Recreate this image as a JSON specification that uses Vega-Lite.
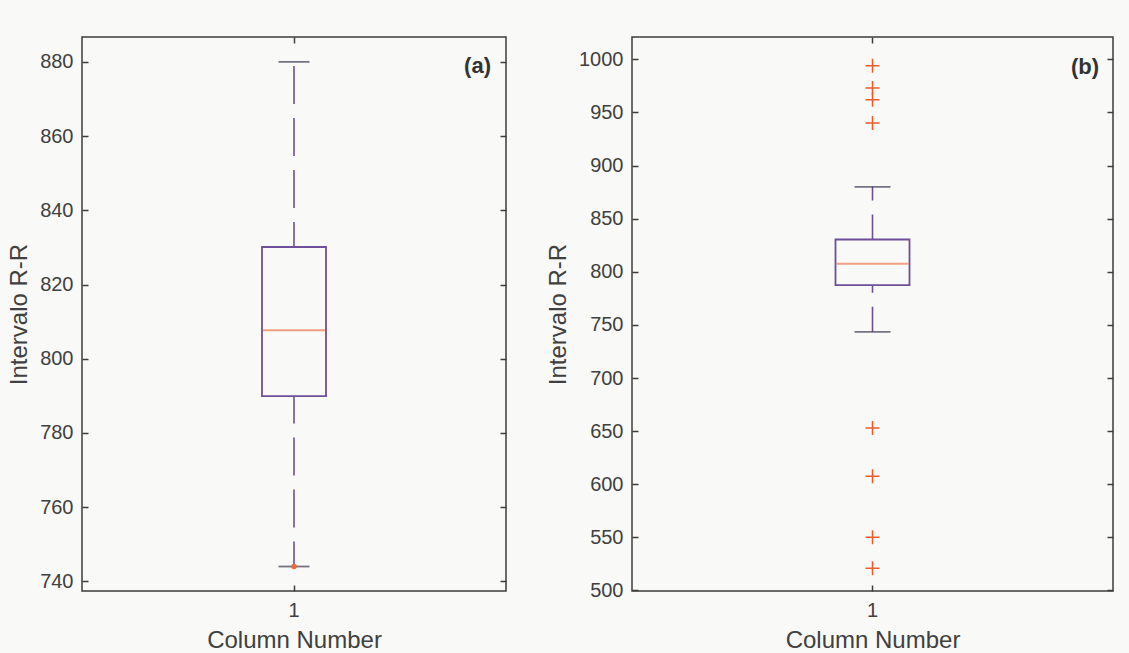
{
  "$schema": "https://vega.github.io/schema/vega-lite/v6.json",
  "background": "#f9f9f7",
  "padding": {"left": 6, "top": 35, "right": 16, "bottom": 6},
  "spacing": 37,
  "datasets": {
    "box_a": [{"col": "1", "lo": 744, "q1": 789.9, "med": 807.7, "q3": 830.1, "hi": 880}],
    "box_b": [{"col": "1", "lo": 743.5, "q1": 787.5, "med": 807.5, "q3": 830.4, "hi": 880}],
    "out_a": [{"col": "1", "value": 744}],
    "out_b": [
      {"col": "1", "value": 994},
      {"col": "1", "value": 973},
      {"col": "1", "value": 962},
      {"col": "1", "value": 940},
      {"col": "1", "value": 653},
      {"col": "1", "value": 607.5},
      {"col": "1", "value": 550},
      {"col": "1", "value": 521}
    ]
  },
  "hconcat": [
    {
      "width": 424,
      "height": 554,
      "title": {"text": "(a)", "anchor": "end", "orient": "top", "frame": "group", "offset": -42, "dx": -15, "fontSize": 22, "fontWeight": "bold", "color": "#333333", "font": "Liberation Sans"},
      "data": {"name": "box_a"},
      "layer": [
        {
          "mark": {"type": "rule", "color": "#6f4f9a", "strokeWidth": 1.6, "strokeDash": [38, 14], "strokeDashOffset": 13},
          "encoding": {
            "x": {"field": "col", "type": "nominal", "axis": {"orient": "bottom", "title": "Column Number", "labelAngle": 0}},
            "y": {"field": "q3", "type": "quantitative", "scale": {"domain": [737.4, 886.7], "nice": false, "zero": false}, "axis": {"orient": "left", "title": "Intervalo R-R", "format": "d", "values": [740, 760, 780, 800, 820, 840, 860, 880]}},
            "y2": {"field": "hi"}
          }
        },
        {
          "mark": {"type": "rule", "color": "#6f4f9a", "strokeWidth": 1.6, "strokeDash": [38, 14], "strokeDashOffset": 13},
          "encoding": {
            "x": {"field": "col", "type": "nominal", "axis": null},
            "y": {"field": "lo", "type": "quantitative", "axis": null},
            "y2": {"field": "q1"}
          }
        },
        {
          "mark": {"type": "bar", "size": 64, "fillOpacity": 0, "stroke": "#6f4f9a", "strokeWidth": 1.8},
          "encoding": {
            "x": {"field": "col", "type": "nominal", "axis": null},
            "y": {"field": "q1", "type": "quantitative", "axis": null},
            "y2": {"field": "q3"}
          }
        },
        {
          "mark": {"type": "tick", "size": 62, "thickness": 2, "color": "#f07a50"},
          "encoding": {
            "x": {"field": "col", "type": "nominal", "axis": {"orient": "top", "labels": false, "title": null}},
            "y": {"field": "med", "type": "quantitative", "axis": {"orient": "right", "labels": false, "title": null, "values": [740, 760, 780, 800, 820, 840, 860, 880]}}
          }
        },
        {
          "mark": {"type": "tick", "size": 31, "thickness": 1.8, "color": "#3f3a50"},
          "encoding": {
            "x": {"field": "col", "type": "nominal", "axis": null},
            "y": {"field": "hi", "type": "quantitative", "axis": null}
          }
        },
        {
          "mark": {"type": "tick", "size": 31, "thickness": 1.8, "color": "#3f3a50"},
          "encoding": {
            "x": {"field": "col", "type": "nominal", "axis": null},
            "y": {"field": "lo", "type": "quantitative", "axis": null}
          }
        },
        {
          "data": {"name": "out_a"},
          "mark": {"type": "point", "shape": "circle", "filled": true, "size": 30, "color": "#ec6a3c", "opacity": 1},
          "encoding": {
            "x": {"field": "col", "type": "nominal", "axis": null},
            "y": {"field": "value", "type": "quantitative", "axis": null}
          }
        }
      ],
      "resolve": {"axis": {"x": "independent", "y": "independent"}}
    },
    {
      "width": 481,
      "height": 554,
      "title": {"text": "(b)", "anchor": "end", "orient": "top", "frame": "group", "offset": -43, "dx": -14, "fontSize": 22, "fontWeight": "bold", "color": "#333333", "font": "Liberation Sans"},
      "data": {"name": "box_b"},
      "layer": [
        {
          "mark": {"type": "rule", "color": "#6f4f9a", "strokeWidth": 1.6, "strokeDash": [38, 14], "strokeDashOffset": 13},
          "encoding": {
            "x": {"field": "col", "type": "nominal", "axis": {"orient": "bottom", "title": "Column Number", "labelAngle": 0}},
            "y": {"field": "q3", "type": "quantitative", "scale": {"domain": [499.5, 1021], "nice": false, "zero": false}, "axis": {"orient": "left", "title": "Intervalo R-R", "format": "d", "values": [500, 550, 600, 650, 700, 750, 800, 850, 900, 950, 1000]}},
            "y2": {"field": "hi"}
          }
        },
        {
          "mark": {"type": "rule", "color": "#6f4f9a", "strokeWidth": 1.6, "strokeDash": [38, 14], "strokeDashOffset": 13},
          "encoding": {
            "x": {"field": "col", "type": "nominal", "axis": null},
            "y": {"field": "lo", "type": "quantitative", "axis": null},
            "y2": {"field": "q1"}
          }
        },
        {
          "mark": {"type": "bar", "size": 74, "fillOpacity": 0, "stroke": "#6f4f9a", "strokeWidth": 1.8},
          "encoding": {
            "x": {"field": "col", "type": "nominal", "axis": null},
            "y": {"field": "q1", "type": "quantitative", "axis": null},
            "y2": {"field": "q3"}
          }
        },
        {
          "mark": {"type": "tick", "size": 72, "thickness": 2, "color": "#f07a50"},
          "encoding": {
            "x": {"field": "col", "type": "nominal", "axis": {"orient": "top", "labels": false, "title": null}},
            "y": {"field": "med", "type": "quantitative", "axis": {"orient": "right", "labels": false, "title": null, "values": [500, 550, 600, 650, 700, 750, 800, 850, 900, 950, 1000]}}
          }
        },
        {
          "mark": {"type": "tick", "size": 36, "thickness": 1.8, "color": "#3f3a50"},
          "encoding": {
            "x": {"field": "col", "type": "nominal", "axis": null},
            "y": {"field": "hi", "type": "quantitative", "axis": null}
          }
        },
        {
          "mark": {"type": "tick", "size": 36, "thickness": 1.8, "color": "#3f3a50"},
          "encoding": {
            "x": {"field": "col", "type": "nominal", "axis": null},
            "y": {"field": "lo", "type": "quantitative", "axis": null}
          }
        },
        {
          "data": {"name": "out_b"},
          "mark": {"type": "point", "shape": "M-1,0L1,0M0,-1L0,1", "filled": false, "size": 196, "stroke": "#ee5a2a", "strokeWidth": 1.5, "opacity": 1},
          "encoding": {
            "x": {"field": "col", "type": "nominal", "axis": null},
            "y": {"field": "value", "type": "quantitative", "axis": null}
          }
        }
      ],
      "resolve": {"axis": {"x": "independent", "y": "independent"}}
    }
  ],
  "config": {
    "font": "Liberation Sans",
    "view": {"stroke": "#3d3d3d", "strokeWidth": 1.5, "fill": "#f9f9f7"},
    "axis": {
      "domain": false,
      "grid": false,
      "tickSize": -6,
      "tickColor": "#3d3d3d",
      "tickWidth": 1.5,
      "labelPadding": 15,
      "labelFont": "Liberation Sans",
      "labelFontSize": 20,
      "labelColor": "#404040",
      "titleFont": "Liberation Sans",
      "titleFontSize": 24,
      "titleFontWeight": "normal",
      "titleColor": "#404040",
      "titlePadding": 8
    }
  }
}
